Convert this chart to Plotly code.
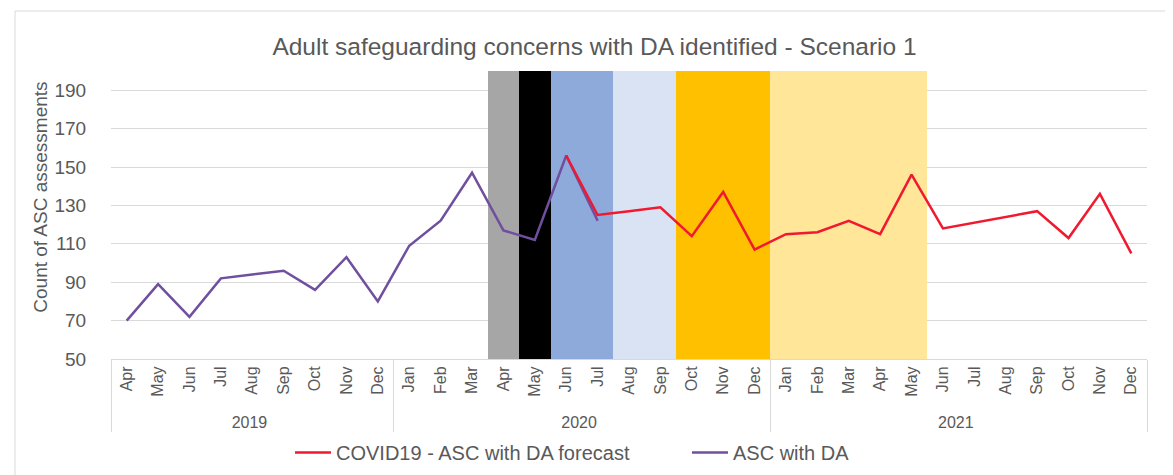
import plotly.graph_objects as go

# ---------------- data ----------------
years = ["2019"] * 9 + ["2020"] * 12 + ["2021"] * 12
months = (["Apr", "May", "Jun", "Jul", "Aug", "Sep", "Oct", "Nov", "Dec"]
          + ["Jan", "Feb", "Mar", "Apr", "May", "Jun", "Jul", "Aug", "Sep", "Oct", "Nov", "Dec"]
          + ["Jan", "Feb", "Mar", "Apr", "May", "Jun", "Jul", "Aug", "Sep", "Oct", "Nov", "Dec"])

asc_with_da = [70, 89, 72, 92, 94, 96, 86, 103, 80,
               109, 122, 147, 117, 112, 156, 122] + [None] * 17

covid_forecast = [None] * 14 + [156, 125, 127, 129, 114, 137, 107,
                                115, 116, 122, 115, 146, 118, 121, 124, 127, 113, 136, 105]

phase_top = [None] * 12 + [200] * 14 + [None] * 7

phase_colors = (["rgba(0,0,0,0)"] * 12
                + ["#a6a6a6", "#000000", "#8eaadb", "#8eaadb", "#dae3f3", "#dae3f3",
                   "#ffc000", "#ffc000", "#ffc000",
                   "#ffe699", "#ffe699", "#ffe699", "#ffe699", "#ffe699"]
                + ["rgba(0,0,0,0)"] * 7)

y_ticks = [50, 70, 90, 110, 130, 150, 170, 190]

# ---------------- figure ----------------
FONT = "Liberation Sans, Arial, sans-serif"
GREY = "#595959"

# plotly orders inner multicategory labels by first appearance across all groups;
# a zero-width marker on the first (partial) year keeps each year's months in calendar order
inner = [m + "\u200b" if y == years[0] else m for y, m in zip(years, months)]
x = [years, inner]

fig = go.Figure()
fig.add_trace(go.Bar(x=x, y=phase_top, marker=dict(color=phase_colors, line=dict(width=0)),
                     width=1, showlegend=False, hoverinfo="skip"))
fig.add_trace(go.Scatter(x=x, y=asc_with_da, mode="lines", name="ASC with DA",
                         line=dict(color="#6f4f9e", width=2.5), legendrank=2))
fig.add_trace(go.Scatter(x=x, y=covid_forecast, mode="lines", name="COVID19 - ASC with DA forecast",
                         line=dict(color="#f0192f", width=2.5), legendrank=1))

fig.update_layout(
    width=1173, height=475,
    margin=dict(l=103, r=34, t=63, b=124, autoexpand=False),
    paper_bgcolor="white", plot_bgcolor="white",
    font=dict(family=FONT, color=GREY),
    bargap=0,
    title=dict(text="Adult safeguarding concerns with DA identified - Scenario 1",
               x=0.5, xref="container", xanchor="center",
               y=1 - 38 / 475, yref="container", yanchor="middle",
               font=dict(size=24.5, color=GREY, family=FONT)),
    showlegend=True,
    legend=dict(orientation="h", x=(298 - 16 - 103) / 1036, xanchor="left", y=-0.325, yanchor="middle",
                font=dict(size=20, color=GREY), itemwidth=36, bgcolor="rgba(0,0,0,0)",
                entrywidth=346, entrywidthmode="pixels"),
    xaxis=dict(type="multicategory", showgrid=False, showline=True, linecolor="#d9d9d9",
               linewidth=1, tickangle=-90, tickfont=dict(size=16, color=GREY),
               showdividers=True, dividercolor="#d9d9d9", dividerwidth=1,
               ticks="", automargin=False, fixedrange=True),
    yaxis=dict(range=[50, 200], tickvals=y_ticks, showgrid=True, gridcolor="#d9d9d9",
               gridwidth=1, zeroline=False, showline=False, ticks="outside", ticklen=20,
               tickcolor="rgba(0,0,0,0)", tickfont=dict(size=19, color=GREY),
               automargin=False, fixedrange=True),
    annotations=[dict(text="Count of ASC assessments", textangle=-90, showarrow=False,
                      xref="paper", yref="paper", x=(33 - 103) / 1036, y=0.56,
                      xanchor="center", yanchor="middle",
                      font=dict(size=19, color=GREY, family=FONT))],
    shapes=[dict(type="rect", xref="paper", yref="paper",
                 x0=(7 - 103) / 1036, x1=(1166 - 103) / 1036,
                 y0=(351 - 473) / 288, y1=(351 - 3) / 288,
                 line=dict(color="#d9d9d9", width=1), fillcolor="rgba(0,0,0,0)", layer="below")],
)

fig.write_html("out.html")
